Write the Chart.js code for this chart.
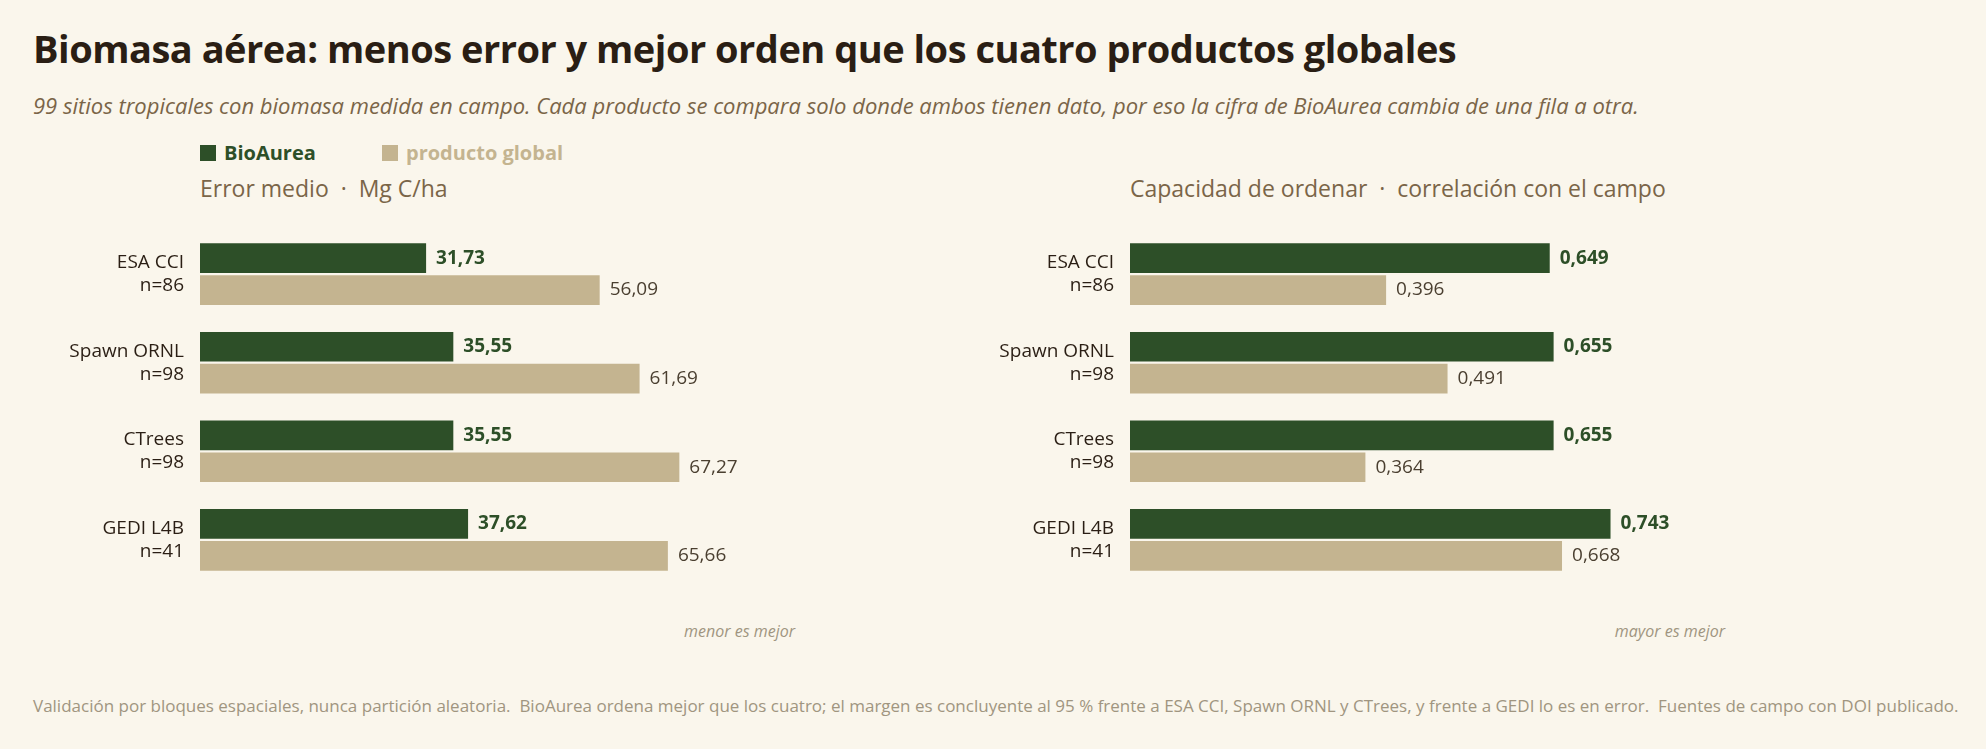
<!DOCTYPE html>
<html><head><meta charset="utf-8">
<script src="https://cdn.jsdelivr.net/npm/chart.js@4"></script>
<style>
  body{margin:0;background:#faf6ec;font-family:"Open Sans",sans-serif;width:1986px;height:749px;overflow:hidden;position:relative}
  .t{position:absolute;white-space:nowrap}
  #title{left:33px;top:22px;font-size:38px;font-weight:700;color:#2a1e14;letter-spacing:-0.5px}
  #sub{left:33px;top:90px;font-size:22px;font-style:italic;color:#7a6548}
  .leg{top:139px;font-size:20px;font-weight:700}
  .leg i{display:inline-block;width:16px;height:16px;margin-right:8px;vertical-align:-1px}
  .ptitle{top:172px;font-size:23px;color:#7a6548}
  .note{top:620px;font-size:16px;font-style:italic;color:#a09580;text-align:right}
  #foot{left:33px;top:694px;font-size:17px;color:#a09580}
  canvas{position:absolute}
</style></head><body>
<div class="t" id="title">Biomasa aérea: menos error y mejor orden que los cuatro productos globales</div>
<div class="t" id="sub">99 sitios tropicales con biomasa medida en campo. Cada producto se compara solo donde ambos tienen dato, por eso la cifra de BioAurea cambia de una fila a otra.</div>
<div class="t leg" style="left:200px;color:#2d4f28"><i style="background:#2d4f28"></i>BioAurea</div>
<div class="t leg" style="left:382px;color:#c4b490"><i style="background:#c4b490"></i>producto global</div>
<div class="t ptitle" style="left:200px">Error medio &nbsp;·&nbsp; Mg C/ha</div>
<div class="t ptitle" style="left:1130px">Capacidad de ordenar &nbsp;·&nbsp; correlación con el campo</div>
<div class="t note" style="right:1191px">menor es mejor</div>
<div class="t note" style="right:261px">mayor es mejor</div>
<div class="t" id="foot">Validación por bloques espaciales, nunca partición aleatoria.&nbsp; BioAurea ordena mejor que los cuatro; el margen es concluyente al 95 % frente a ESA CCI, Spawn ORNL y CTrees, y frente a GEDI lo es en error.&nbsp; Fuentes de campo con DOI publicado.</div>
<canvas id="c1" style="left:0;top:199px;width:795px;height:416px" width="795" height="416"></canvas>
<canvas id="c2" style="left:930px;top:199px;width:795px;height:416px" width="795" height="416"></canvas>
<script>
const categories = [['ESA CCI','n=86'],['Spawn ORNL','n=98'],['CTrees','n=98'],['GEDI L4B','n=41']];
const errBio = [31.73, 35.55, 35.55, 37.62];
const errGlobal = [56.09, 61.69, 67.27, 65.66];
const corrBio = [0.649, 0.655, 0.655, 0.743];
const corrGlobal = [0.396, 0.491, 0.364, 0.668];

const GREEN = '#2d4f28', TAN = '#c4b490';

const labelPlugin = {
  id: 'vals',
  afterDatasetsDraw(chart) {
    const ctx = chart.ctx;
    const dec = chart.options.decimals;
    chart.data.datasets.forEach((ds, i) => {
      chart.getDatasetMeta(i).data.forEach((bar, j) => {
        ctx.save();
        ctx.font = (i === 0 ? '700 ' : '400 ') + '19px "Open Sans"';
        ctx.fillStyle = i === 0 ? GREEN : '#4a3f30';
        ctx.textBaseline = 'middle';
        ctx.fillText(ds.data[j].toFixed(dec).replace('.', ','), bar.x + 10, bar.y);
        ctx.restore();
      });
    });
  }
};

function makeChart(id, bio, glob, max, dec) {
  new Chart(document.getElementById(id), {
    type: 'bar',
    data: {
      labels: categories,
      datasets: [
        { data: bio, backgroundColor: GREEN },
        { data: glob, backgroundColor: TAN }
      ]
    },
    options: {
      indexAxis: 'y',
      responsive: false,
      animation: false,
      decimals: dec,
      categoryPercentage: 0.72,
      barPercentage: 0.93,
      layout: { padding: 0 },
      plugins: { legend: { display: false }, tooltip: { enabled: false } },
      scales: {
        x: { display: false, min: 0, max: max },
        y: {
          grid: { display: false }, border: { display: false },
          ticks: { color: '#2a1e14', font: { size: 19, family: 'Open Sans' }, padding: 8 },
          afterFit(s) { s.width = 200; }
        }
      }
    },
    plugins: [labelPlugin]
  });
}
makeChart('c1', errBio, errGlobal, 83.5, 2);
makeChart('c2', corrBio, corrGlobal, 0.92, 3);
</script>
</body></html>
